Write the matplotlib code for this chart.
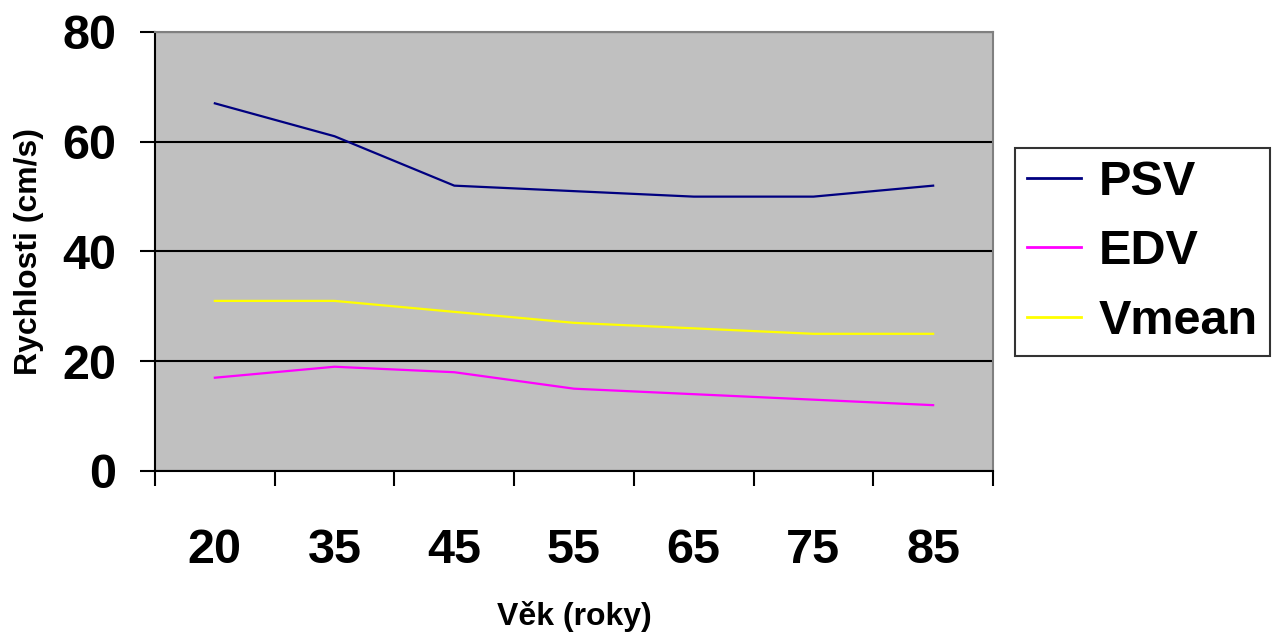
import matplotlib
matplotlib.use("Agg")
from matplotlib import pyplot as plt
import numpy as np

# age groups and measured velocities (cm/s)
vek = ["20", "35", "45", "55", "65", "75", "85"]
psv = [67, 61, 52, 51, 50, 50, 52]
edv = [17, 19, 18, 15, 14, 13, 12]
vmean = [31, 31, 29, 27, 26, 25, 25]

plt.rcParams['font.family'] = ['Liberation Sans', 'DejaVu Sans']
plt.rcParams['font.weight'] = 'bold'

fig = plt.figure(figsize=(12.79, 6.34), dpi=100)
W, H = 1279, 634
ax = fig.add_axes([155 / W, (H - 471) / H, (993 - 155) / W, (471 - 32) / H])
ax.set_facecolor('#C0C0C0')

x = np.arange(len(vek))
ax.plot(x, psv, color='#000080', lw=1.6, label='PSV')
ax.plot(x, edv, color='#FF00FF', lw=1.6, label='EDV')
ax.plot(x, vmean, color='#FFFF00', lw=1.6, label='Vmean')

ax.set_ylim(0, 80)
ax.set_xlim(-0.5, len(vek) - 0.5)
ax.set_yticks([0, 20, 40, 60, 80])
ax.yaxis.grid(True, color='black', lw=1.5)
ax.set_axisbelow(True)

# category boundaries carry the tick marks, labels sit in the middle
ax.set_xticks(np.arange(len(vek) + 1) - 0.5)
ax.set_xticklabels([])
ax.set_xticks(x, minor=True)
ax.set_xticklabels(vek, minor=True, fontsize=35, fontweight='bold')
ax.tick_params(axis='x', which='major', direction='out', length=11, width=1.5)
ax.tick_params(axis='x', which='minor', length=0, pad=41)
ax.tick_params(axis='y', direction='out', length=11, width=1.5, labelsize=35, pad=17)

for s in ['left', 'bottom']:
    ax.spines[s].set_color('black')
    ax.spines[s].set_linewidth(1.5)
for s in ['top', 'right']:
    ax.spines[s].set_color('#808080')
    ax.spines[s].set_linewidth(1.5)

ax.set_ylabel('Rychlosti (cm/s)', fontsize=23, fontweight='bold', labelpad=13)
ax.set_xlabel('Věk (roky)', fontsize=23, fontweight='bold', labelpad=20)

leg = fig.legend(loc='upper left', bbox_to_anchor=(1015 / W, 1 - 148 / H),
                 frameon=True, fancybox=False, handlelength=1.1,
                 handletextpad=0.38, borderpad=0.25, labelspacing=0.5,
                 borderaxespad=0, prop={'weight': 'bold', 'size': 35})
leg.get_frame().set_edgecolor('black')
leg.get_frame().set_linewidth(1.5)
for line in leg.get_lines():
    line.set_linewidth(2)

fig.savefig('out.png', dpi=100, facecolor='white')
